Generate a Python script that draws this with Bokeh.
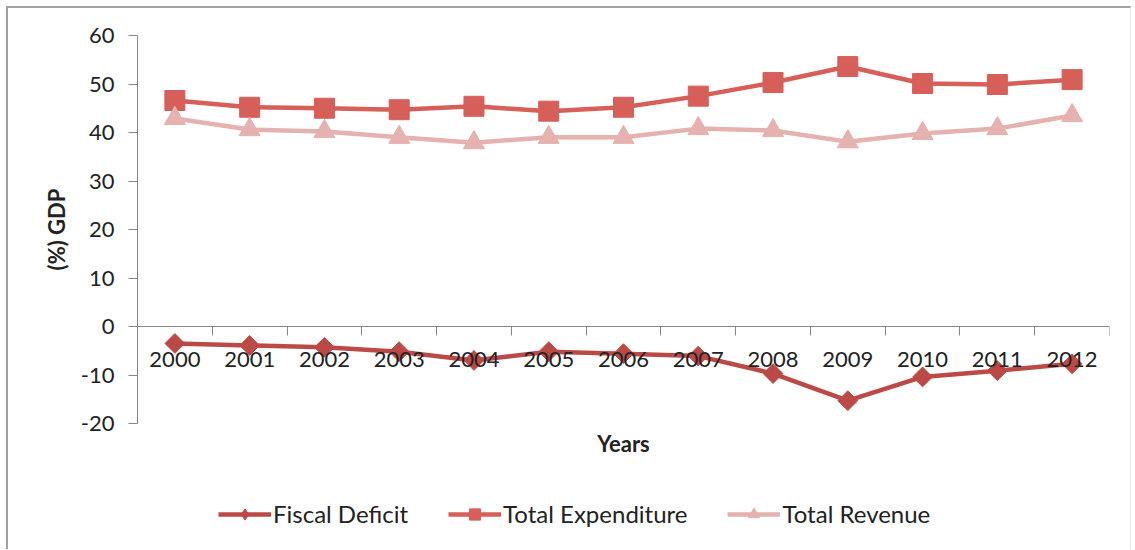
import numpy as np
from bokeh.plotting import figure
from bokeh.layouts import column
from bokeh.models import Range1d, FixedTicker, Legend, LegendItem, LinearAxis
from bokeh.embed import file_html
from bokeh.resources import INLINE

years = ["2000", "2001", "2002", "2003", "2004", "2005", "2006",
         "2007", "2008", "2009", "2010", "2011", "2012"]
fiscal_deficit = [-3.5, -3.9, -4.3, -5.2, -7.0, -5.2, -5.6, -6.1, -9.7, -15.3, -10.4, -9.1, -7.7]
total_expenditure = [46.6, 45.2, 45.0, 44.7, 45.4, 44.4, 45.2, 47.5, 50.3, 53.6, 50.1, 49.9, 50.9]
total_revenue = [42.9, 40.6, 40.2, 39.0, 37.9, 39.0, 39.0, 40.8, 40.4, 38.1, 39.8, 40.8, 43.5]
y_ticks = [-20, -10, 0, 10, 20, 30, 40, 50, 60]
series_names = ["Fiscal Deficit", "Total Expenditure", "Total Revenue"]

C_DEF = "#BB4A47"
C_EXP = "#D65F59"
C_REV = "#E5B2B0"
AXIS = "#868686"
TXT = "#222222"
FONT = "Lato"
LW = 4.5

n = len(years)
x = [i + 0.5 for i in range(n)]
bounds = list(range(n + 1))

p = figure(frame_width=972, frame_height=388,
           x_range=Range1d(0, n), y_range=Range1d(y_ticks[0], y_ticks[-1]),
           output_backend="svg", toolbar_location=None,
           min_border_left=129, min_border_right=21,
           min_border_top=27, min_border_bottom=60)
p.outline_line_color = None
p.grid.visible = False
p.background_fill_color = "white"
p.border_fill_color = "white"

# category axis crossing at zero
xa = p.xaxis[0]
xa.fixed_location = 0
xa.ticker = FixedTicker(ticks=x, minor_ticks=bounds)
xa.major_label_overrides = {xx: yy for xx, yy in zip(x, years)}
xa.major_tick_line_color = None
xa.major_tick_out = 0
xa.major_tick_in = 0
xa.minor_tick_line_color = AXIS
xa.minor_tick_out = 9
xa.minor_tick_in = 0
xa.axis_line_color = AXIS
xa.major_label_standoff = 16
xa.major_label_text_font = FONT
xa.major_label_text_font_size = "22px"
xa.major_label_text_color = TXT

# axis carrying only the "Years" title
ta = LinearAxis(ticker=FixedTicker(ticks=[]), axis_label="Years",
                axis_line_color=None, major_tick_line_color=None,
                minor_tick_line_color=None, major_tick_out=0, major_tick_in=0,
                minor_tick_out=0, minor_tick_in=0, major_label_standoff=0,
                axis_label_standoff=6, axis_label_text_font=FONT,
                axis_label_text_font_style="bold", axis_label_text_font_size="22px",
                axis_label_text_color=TXT)
p.add_layout(ta, "below")

ya = p.yaxis[0]
ya.ticker = FixedTicker(ticks=y_ticks)
ya.major_label_overrides = {t: str(t) for t in y_ticks}
ya.minor_tick_line_color = None
ya.major_tick_out = 9
ya.major_tick_in = 0
ya.major_tick_line_color = AXIS
ya.axis_line_color = AXIS
ya.major_label_standoff = 14
ya.major_label_text_font = FONT
ya.major_label_text_font_size = "22px"
ya.major_label_text_color = TXT
ya.axis_label = "(%) GDP"
ya.axis_label_text_font = FONT
ya.axis_label_text_font_style = "bold"
ya.axis_label_text_font_size = "22px"
ya.axis_label_text_color = TXT
ya.axis_label_standoff = 8


def draw(fig, for_legend=False):
    l1 = fig.line(x, fiscal_deficit, line_color=C_DEF, line_width=LW)
    if for_legend:
        m1 = fig.scatter(x, fiscal_deficit, marker="diamond", size=20,
                         fill_color=C_DEF, line_color=C_DEF)
    else:
        m1 = fig.scatter(x, fiscal_deficit, marker="square", angle=np.pi / 4, size=14,
                         fill_color=C_DEF, line_color=C_DEF)
    l2 = fig.line(x, total_expenditure, line_color=C_EXP, line_width=LW)
    m2 = fig.scatter(x, total_expenditure, marker="square", size=20,
                     fill_color=C_EXP, line_color=C_EXP)
    l3 = fig.line(x, total_revenue, line_color=C_REV, line_width=LW)
    m3 = fig.scatter(x, total_revenue, marker="triangle", size=21,
                     fill_color=C_REV, line_color=C_REV)
    return [[l1, m1], [l2, m2], [l3, m3]]


draw(p)

# legend strip (same series drawn out of view, used only for the legend)
p2 = figure(width=1122, height=66, x_range=Range1d(0, n), y_range=Range1d(1000, 1001),
            output_backend="svg", toolbar_location=None,
            x_axis_location=None, y_axis_location=None, min_border=0)
p2.outline_line_color = None
p2.grid.visible = False
p2.border_fill_color = "white"
rs = draw(p2, for_legend=True)
legend = Legend(items=[LegendItem(label=nm, renderers=r) for nm, r in zip(series_names, rs)],
                orientation="horizontal", location=(81, 21),
                glyph_width=53, glyph_height=28, label_standoff=2, spacing=40,
                padding=0, margin=0, border_line_color=None,
                background_fill_alpha=0,
                label_text_font=FONT, label_text_font_size="24px",
                label_text_color=TXT)
p2.add_layout(legend)

layout = column(p, p2, spacing=0)
layout.styles = {"margin-left": "6px", "margin-top": "6px",
                 "border-left": "2px solid #a0a0a0", "border-top": "2px solid #a0a0a0",
                 "border-right": "1px solid #ececec"}

open("out.html", "w").write(file_html(layout, INLINE))
